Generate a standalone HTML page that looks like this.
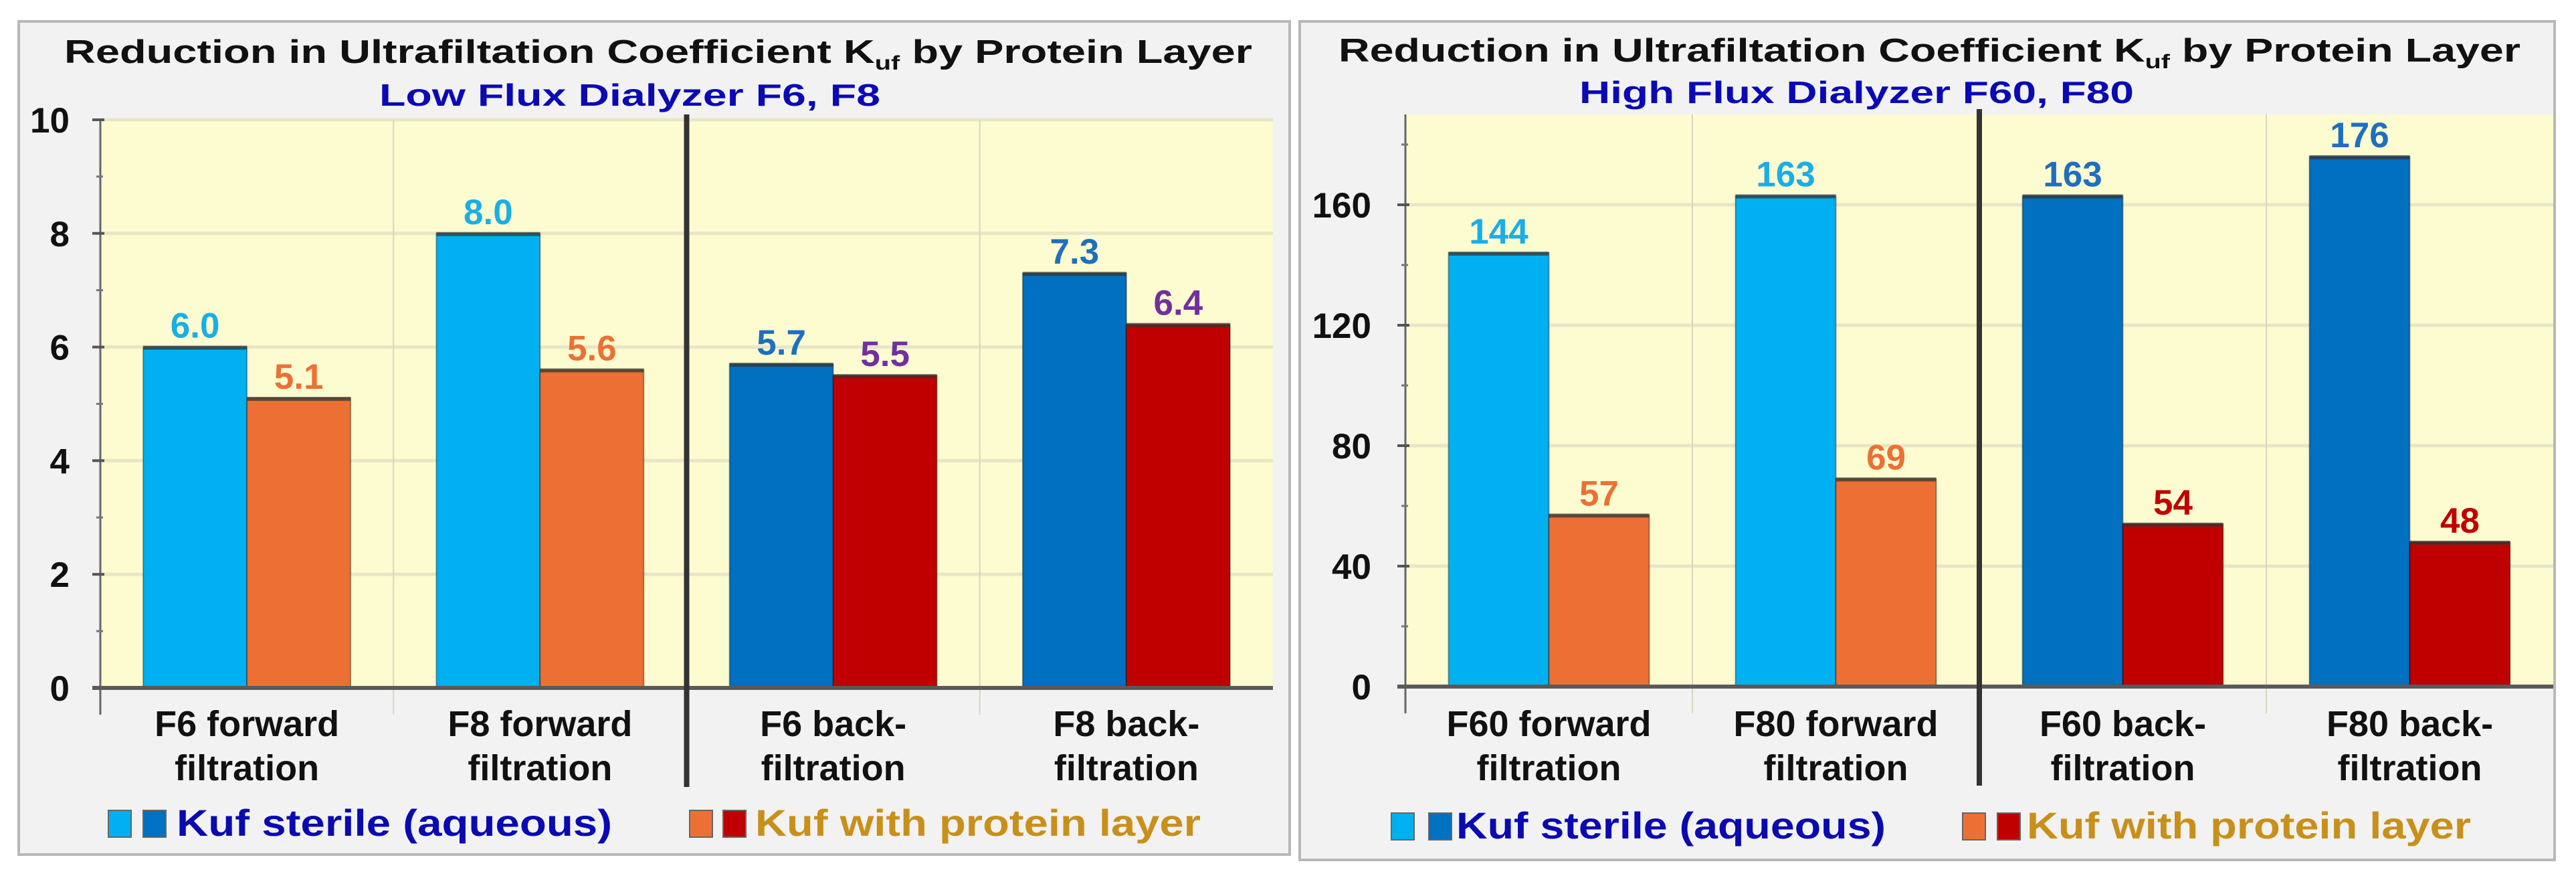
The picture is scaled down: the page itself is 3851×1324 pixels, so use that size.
<!DOCTYPE html>
<html><head><meta charset="utf-8">
<style>
html,body{margin:0;padding:0;background:#fff;}
svg{display:block;}
text{font-family:"Liberation Sans Narrow","Liberation Sans",sans-serif;font-weight:bold;}
</style></head>
<body>
<svg id="chart" width="3851" height="1324" viewBox="0 0 3851 1324" xmlns="http://www.w3.org/2000/svg">
  <rect x="0" y="0" width="3851" height="1324" fill="#ffffff"/>
  <g id="left-panel">
    <rect x="28" y="32" width="1900" height="1245" fill="#f2f2f2" stroke="#b8b8b8" stroke-width="4"/>
    <text x="96" y="94" font-size="49" fill="#111" textLength="1776" lengthAdjust="spacingAndGlyphs">Reduction in Ultrafiltation Coefficient K<tspan font-size="30" dy="10">uf</tspan><tspan dy="-10"> by Protein Layer</tspan></text>
    <text x="567" y="158" font-size="46" fill="#0a0ab4" textLength="749" lengthAdjust="spacingAndGlyphs">Low Flux Dialyzer F6, F8</text>
  </g>
  <g id="right-panel">
    <rect x="1943" y="32" width="1876" height="1253" fill="#f2f2f2" stroke="#b8b8b8" stroke-width="4"/>
    <text x="2001" y="92" font-size="49" fill="#111" textLength="1767" lengthAdjust="spacingAndGlyphs">Reduction in Ultrafiltation Coefficient K<tspan font-size="30" dy="10">uf</tspan><tspan dy="-10"> by Protein Layer</tspan></text>
    <text x="2361" y="154" font-size="46" fill="#0a0ab4" textLength="829" lengthAdjust="spacingAndGlyphs">High Flux Dialyzer F60, F80</text>
  </g>
</svg>
<script>
// ---- data: low flux (left) ----
const leftCategories = [["F6 forward","filtration"],["F8 forward","filtration"],["F6 back-","filtration"],["F8 back-","filtration"]];
const leftSterile = [6.0, 8.0, 5.7, 7.3];
const leftProtein = [5.1, 5.6, 5.5, 6.4];
const leftTicks = [0, 2, 4, 6, 8, 10];
const leftSterileLabels = ["6.0","8.0","5.7","7.3"];
const leftProteinLabels = ["5.1","5.6","5.5","6.4"];
// ---- data: high flux (right) ----
const rightCategories = [["F60 forward","filtration"],["F80 forward","filtration"],["F60 back-","filtration"],["F80 back-","filtration"]];
const rightSterile = [144, 163, 163, 176];
const rightProtein = [57, 69, 54, 48];
const rightTicks = [0, 40, 80, 120, 160];
const rightSterileLabels = ["144","163","163","176"];
const rightProteinLabels = ["57","69","54","48"];

const NS = "http://www.w3.org/2000/svg";
const svg = document.getElementById('chart');
function mk(tag, attrs, parent){
  const e = document.createElementNS(NS, tag);
  for (const k in attrs) e.setAttribute(k, attrs[k]);
  (parent||svg).appendChild(e);
  return e;
}

function drawChart(cfg){
  const g = mk('g', {});
  
  
  const yScale = v => cfg.y0 - (v - 0) / cfg.ymax * (cfg.y0 - cfg.yTop);
  const catW = (cfg.x1 - cfg.x0) / cfg.categories.length;
  const xCat = i => cfg.x0 + i * catW;
  const bg = mk('rect', {x: cfg.x0, y: cfg.yTop, width: cfg.x1 - cfg.x0, height: cfg.y0 - cfg.yTop, fill: '#fdfbd0'}, g);
  
  
  cfg.ticks.forEach(t => {
    if (t === 0) return;
    const gl = mk('line', {x1: cfg.x0, x2: cfg.x1, y1: yScale(t), y2: yScale(t), stroke: '#e9e5c6', 'stroke-width': 5}, g);
    
    
  });
  for (let i = 1; i < cfg.categories.length; i++) {
    if (i === 2) continue;
    const s = mk('line', {x1: xCat(i), x2: xCat(i), y1: cfg.yTop, y2: cfg.y0 + 40, stroke: '#d8d6c0', 'stroke-width': 2}, g);
    
    
  }
  const ya = mk('line', {x1: cfg.x0, x2: cfg.x0, y1: cfg.yTop, y2: cfg.y0 + 40, stroke: '#666', 'stroke-width': 3}, g);
  
  
  cfg.ticks.forEach(t => {
    const tk = mk('line', {x1: cfg.x0 - 12, x2: cfg.x0 + 6, y1: yScale(t), y2: yScale(t), stroke: '#555', 'stroke-width': 4}, g);
    
    
    const tl = mk('text', {x: cfg.labelRight, y: yScale(t) + 19, 'font-size': 53, fill: '#111', 'text-anchor': 'end'}, g);
    tl.textContent = String(t);
    
    
  });
  for (let k = 0; k < cfg.ticks.length; k++) {
    const mid = cfg.ticks[k] + (cfg.ticks[1] - cfg.ticks[0]) / 2;
    if (mid > cfg.ymax) break;
    const mt = mk('line', {x1: cfg.x0 - 6, x2: cfg.x0 + 4, y1: yScale(mid), y2: yScale(mid), stroke: '#777', 'stroke-width': 3}, g);
    
    
  }
  cfg.categories.forEach((c, i) => {
    const cx = xCat(i) + catW / 2;
    const back = i >= 2;
    const sets = [
      {v: cfg.sterile[i], lab: cfg.sterileLabels[i], x: cx - cfg.barW, fill: back ? '#0070c0' : '#00b0f0', lc: back ? cfg.backSterileLabel : '#1aaee6', name: 'sterile'},
      {v: cfg.protein[i], lab: cfg.proteinLabels[i], x: cx, fill: back ? '#c00000' : '#ec7034', lc: back ? cfg.backProteinLabel : '#ec7034', name: 'protein'}
    ];
    sets.forEach(s => {
      const y = yScale(s.v);
      const b = mk('rect', {x: s.x, y: y, width: cfg.barW, height: cfg.y0 - y, fill: s.fill, stroke: 'rgba(0,0,0,0.35)', 'stroke-width': 2}, g);
      
      
      const tp = mk('rect', {x: s.x, y: y - 2, width: cfg.barW, height: 6, fill: '#333', opacity: 0.7}, g);
      
      
      const vl = mk('text', {x: s.x + cfg.barW / 2, y: y - 14, 'font-size': 53, fill: s.lc, 'text-anchor': 'middle'}, g);
      vl.textContent = s.lab;
      
      
    });
    c.forEach((line, li) => {
      const xl = mk('text', {x: cx, y: cfg.labelY + li * 66, 'font-size': 54, fill: '#111', 'text-anchor': 'middle'}, g);
      xl.textContent = line;
      
      
    });
  });
  const xa = mk('line', {x1: cfg.x0 - 12, x2: cfg.x1, y1: cfg.y0, y2: cfg.y0, stroke: '#5a5a5a', 'stroke-width': 6}, g);
  
  
  const dv = mk('line', {x1: xCat(2), x2: xCat(2), y1: cfg.yTop - 8, y2: cfg.y0 + 148, stroke: '#333', 'stroke-width': 8}, g);
  
  
  const L = cfg.legend;
  const lg = mk('g', {}, g);
  
  
  [[L.s1, '#00b0f0'], [L.s2, '#0070c0'], [L.p1, '#ec7034'], [L.p2, '#c00000']].forEach(([x, col]) => {
    const sw = mk('rect', {x: x, y: L.y - 38, width: 34, height: 40, fill: col, stroke: '#666', 'stroke-width': 2}, lg);
    
    
  });
  const t1 = mk('text', {x: L.t1, y: L.y, 'font-size': 56, fill: '#0a0ab0', textLength: L.w1, lengthAdjust: 'spacingAndGlyphs'}, lg);
  t1.textContent = 'Kuf sterile (aqueous)';
  
  
  const t2 = mk('text', {x: L.t2, y: L.y, 'font-size': 56, fill: '#c8901a', textLength: L.w2, lengthAdjust: 'spacingAndGlyphs'}, lg);
  t2.textContent = 'Kuf with protein layer';
  
  
}

drawChart({prefix: 'left', x0: 150, x1: 1903, yTop: 179, y0: 1028, ymax: 10, ticks: leftTicks,
  categories: leftCategories, sterile: leftSterile, protein: leftProtein,
  sterileLabels: leftSterileLabels, proteinLabels: leftProteinLabels,
  barW: 155, labelRight: 104, labelY: 1100, backSterileLabel: '#1f6fc0', backProteinLabel: '#7030a0',
  legend: {y: 1249, s1: 162, s2: 214, p1: 1031, p2: 1081, t1: 264, w1: 651, t2: 1129, w2: 666}});
drawChart({prefix: 'right', x0: 2101, x1: 3817, yTop: 171, y0: 1026, ymax: 190, ticks: rightTicks,
  categories: rightCategories, sterile: rightSterile, protein: rightProtein,
  sterileLabels: rightSterileLabels, proteinLabels: rightProteinLabels,
  barW: 150, labelRight: 2050, labelY: 1100, backSterileLabel: '#1f6fc0', backProteinLabel: '#c00000',
  legend: {y: 1253, s1: 2080, s2: 2136, p1: 2934, p2: 2986, t1: 2177, w1: 642, t2: 3030, w2: 664}});
</script>
</body></html>
